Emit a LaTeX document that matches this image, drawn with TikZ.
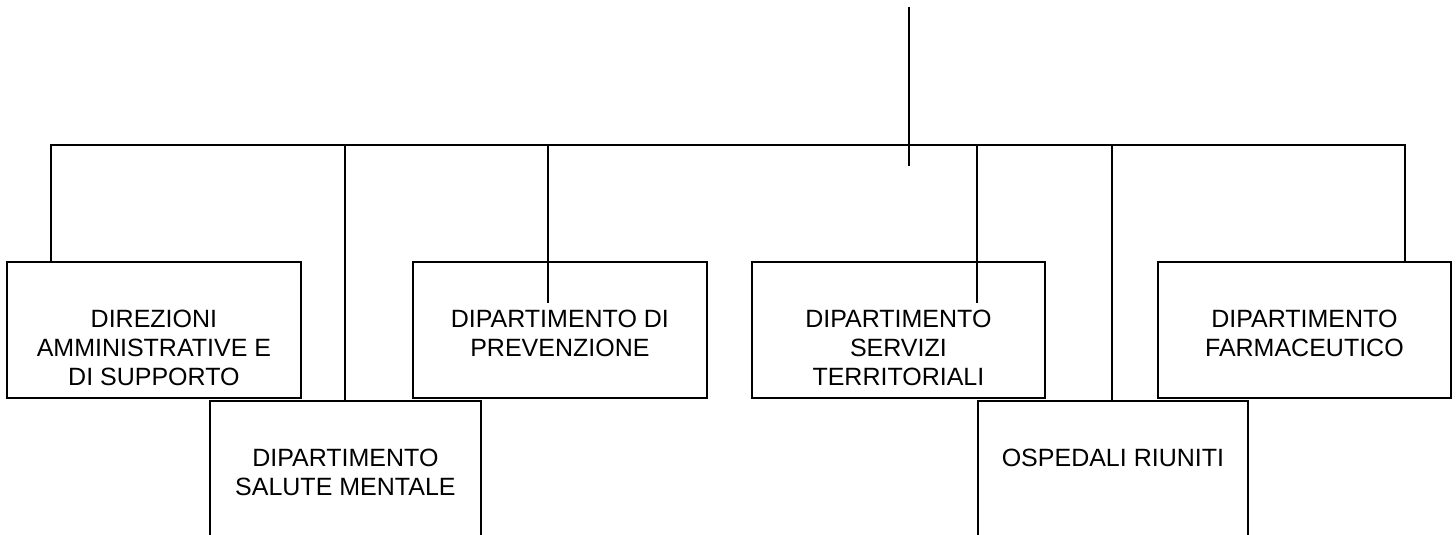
\documentclass[tikz,border=0pt]{standalone}
\usepackage{fontspec}
\setmainfont{Liberation Sans}
\begin{document}
\begin{tikzpicture}[x=1pt,y=-1pt]
\tikzset{box/.style = {draw, fill=white, line width=1.8pt, anchor=north west, minimum height=136pt, inner sep=0pt}}
\tikzset{lbl/.style = {anchor=north, inner sep=0pt, align=center, font=\fontsize{25}{29}\selectfont}}
\tikzset{edge/.style = {line width=1.8pt}}

\useasboundingbox (0,0) rectangle (1456,535);

% boxes
\foreach \pos/\name/\boxw in {(6,261)/dir/294, (209,400)/sal/271, (412,261)/pre/294, (751,261)/ter/293, (977,400)/osp/270, (1157,261)/far/293}
\node[box, minimum width=\boxw pt] (\name) at \pos {};

\foreach \name/\txt in {dir/{DIREZIONI\\AMMINISTRATIVE E\\DI SUPPORTO}, sal/{DIPARTIMENTO\\SALUTE MENTALE}, pre/{DIPARTIMENTO DI\\PREVENZIONE}, ter/{DIPARTIMENTO\\SERVIZI\\TERRITORIALI}, osp/{OSPEDALI RIUNITI}, far/{DIPARTIMENTO\\FARMACEUTICO}}
\node[lbl] (\name-t) at ([yshift=-49pt]\name.north) {\txt};

% connectors
\coordinate (top) at (909,7);
\coordinate (tick) at (909,166);
\foreach \x/\name in {51/dir, 345/sal, 548/pre, 977/ter, 1112/osp, 1405/far}
\coordinate (b-\name) at (\x,145);
\coordinate (e-pre) at (548,303);
\coordinate (e-ter) at (977,303);

\draw[edge] (top) -- (tick);
\draw[edge] (b-dir |- dir.north) -- (b-dir) -- (b-far) -- (b-far |- far.north);
\draw[edge] (b-sal) -- (b-sal |- sal.north);
\draw[edge] (b-osp) -- (b-osp |- osp.north);
\draw[edge] (b-pre) -- (e-pre);
\draw[edge] (b-ter) -- (e-ter);

\end{tikzpicture}
\end{document}
